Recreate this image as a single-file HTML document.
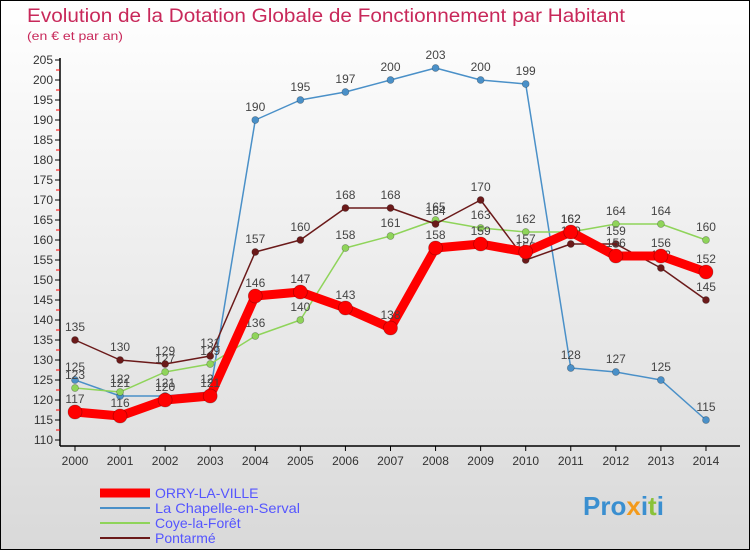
<!DOCTYPE html>
<html><head><meta charset="utf-8"><style>
body{margin:0}
#c{width:750px;height:550px;position:relative;box-sizing:border-box;border:1px solid #000;background:linear-gradient(#fff,#d9d9d9);font-family:"Liberation Sans",sans-serif;overflow:hidden}
</style></head><body>
<div id="c">
<svg id="s" width="750" height="550" style="position:absolute;left:-1px;top:-1px">
<text x="27" y="22" font-size="19" fill="#c8285a" textLength="598" lengthAdjust="spacingAndGlyphs">Evolution de la Dotation Globale de Fonctionnement par Habitant</text>
<text x="27" y="40" font-size="12" fill="#c8285a" textLength="96" lengthAdjust="spacingAndGlyphs">(en € et par an)</text>
<g id="ax"></g><g id="ser"></g>
<g>
<line x1="100" y1="493" x2="150" y2="493" stroke="#f00" stroke-width="9"/>
<text x="155" y="498" font-size="14" fill="#55f">ORRY-LA-VILLE</text>
<line x1="100" y1="508" x2="150" y2="508" stroke="#4a90c8" stroke-width="2"/>
<text x="155" y="513" font-size="14" fill="#55f" textLength="145" lengthAdjust="spacingAndGlyphs">La Chapelle-en-Serval</text>
<line x1="100" y1="523" x2="150" y2="523" stroke="#8fd45a" stroke-width="2"/>
<text x="155" y="528" font-size="14" fill="#55f">Coye-la-Forêt</text>
<line x1="100" y1="538" x2="150" y2="538" stroke="#6b1a1a" stroke-width="2"/>
<text x="155" y="543" font-size="14" fill="#55f">Pontarmé</text>
</g>
<text x="583" y="515" font-size="26" font-weight="bold" fill="#3a8fd0">Pro<tspan fill="#f39a1b">x</tspan>i<tspan fill="#8ac23a">t</tspan>i</text>
</svg></div>
<script>
const years=[2000,2001,2002,2003,2004,2005,2006,2007,2008,2009,2010,2011,2012,2013,2014];
const orry=[117,116,120,121,146,147,143,138,158,159,157,162,156,156,152];
const chapelle=[125,121,121,122,190,195,197,200,203,200,199,128,127,125,115];
const coye=[123,122,127,129,136,140,158,161,165,163,162,162,164,164,160];
const pontarme=[135,130,129,131,157,160,168,168,164,170,155,159,159,153,145];
const yTicks=[110,115,120,125,130,135,140,145,150,155,160,165,170,175,180,185,190,195,200,205];
const NS='http://www.w3.org/2000/svg';
const X=i=>75+i*45.07, Y=v=>440-(v-110)*4;
function mk(t,a,p){const e=document.createElementNS(NS,t);for(const k in a)e.setAttribute(k,a[k]);p.appendChild(e);return e;}
const ax=document.getElementById('ax');
let l=mk('line',{x1:60,y1:58,x2:60,y2:446,stroke:'#000','stroke-width':1.5},ax);


l=mk('line',{x1:60,y1:446,x2:740,y2:446,stroke:'#000','stroke-width':1.5},ax);


yTicks.forEach(v=>{
 const y=Y(v);
 mk('line',{x1:55,y1:y,x2:60,y2:y,stroke:'#000'},ax);
 if(v<205)mk('line',{x1:56,y1:y-10,x2:60,y2:y-10,stroke:'#f00'},ax);
 const t=mk('text',{x:53,y:y+4,'font-size':12,'text-anchor':'end',fill:'#333'},ax);t.textContent=v;
 
 
});
years.forEach((yr,i)=>{
 mk('line',{x1:X(i),y1:446,x2:X(i),y2:451,stroke:'#000'},ax);
 const t=mk('text',{x:X(i),y:465,'font-size':12,'text-anchor':'middle',fill:'#333'},ax);t.textContent=yr;
 
 
});
const ser=document.getElementById('ser');
function draw(data,color,w,r,name){
 const g=mk('g',{},ser);
 
 
 mk('polyline',{points:data.map((v,i)=>X(i)+','+Y(v)).join(' '),fill:'none',stroke:color,'stroke-width':w,'stroke-linejoin':'round'},g);
 data.forEach((v,i)=>{
  const c=mk('circle',{cx:X(i),cy:Y(v),r:r,fill:color,stroke:'rgba(0,0,0,0.3)','stroke-width':0.7},g);
  
  
  const t=mk('text',{x:X(i),y:Y(v)-9,'font-size':12,'text-anchor':'middle',fill:'#444'},g);t.textContent=v;
  
  
 });
}
draw(chapelle,'#4a90c8',1.5,3.5,'chapelle');
draw(coye,'#8fd45a',1.5,3.5,'coye');
draw(pontarme,'#6b1a1a',1.5,3.5,'pontarme');
draw(orry,'#f00',9,7,'orry');
</script></body></html>
